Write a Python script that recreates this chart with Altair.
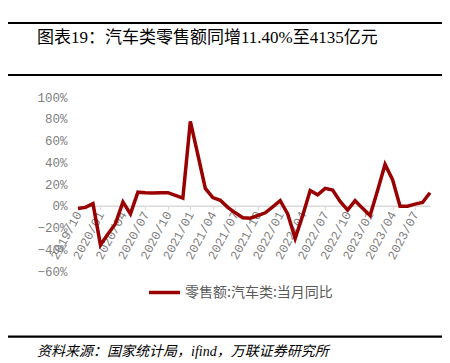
import altair as alt
import pandas as pd

# ---- data ----
months = [
    "2019/10", "2019/11", "2019/12",
    "2020/01", "2020/02", "2020/03", "2020/04", "2020/05", "2020/06",
    "2020/07", "2020/08", "2020/09", "2020/10", "2020/11", "2020/12",
    "2021/01", "2021/02", "2021/03", "2021/04", "2021/05", "2021/06",
    "2021/07", "2021/08", "2021/09", "2021/10", "2021/11", "2021/12",
    "2022/01", "2022/02", "2022/03", "2022/04", "2022/05", "2022/06",
    "2022/07", "2022/08", "2022/09", "2022/10", "2022/11", "2022/12",
    "2023/01", "2023/02", "2023/03", "2023/04", "2023/05", "2023/06",
    "2023/07", "2023/08", "2023/09",
]
values = [
    -2.5, -1.5, 2.0,
    -36.0, -26.0, -16.5, 3.5, -7.5, 12.5,
    12.0, 11.8, 12.0, 12.0, 9.5, 7.0,
    77.6, 47.0, 16.0, 7.5, 5.0, -1.5,
    -6.5, -11.0, -11.5, -9.0, -6.5, -1.0,
    4.6, -7.5, -30.0, -9.0, 14.0, 10.0,
    16.0, 14.5, 4.0, -4.0, 4.6, -2.4,
    -9.0, 14.0, 38.0, 24.0, -0.5, -0.5,
    1.5, 3.0, 12.0,
]
series_name = "零售额:汽车类:当月同比"
tick_labels = months[::3]
y_ticks = [-60, -40, -20, 0, 20, 40, 60, 80, 100]

title_text = "图表19：汽车类零售额同增11.40%至4135亿元"
source_text = "资料来源：国家统计局，ifind，万联证券研究所"

# ---- layout ----
W, H = 352, 174
ZERO_FROM_TOP = H * 100 / 160
RED = "#990000"
GREY = "#7F7F7F"
NUM_FONT = "Liberation Mono"
CJK_FONT = "Noto Sans CJK SC"
MIX_FONT = "Liberation Serif, Noto Sans CJK SC"

df = pd.DataFrame({"month": months, "value": values, "series": series_name})
one = pd.DataFrame({"k": [0]})

line = alt.Chart(df).mark_line(strokeWidth=3.5, strokeJoin="miter").encode(
    x=alt.X(
        "month:O",
        sort=months,
        scale=alt.Scale(type="point", padding=0),
        axis=alt.Axis(
            title=None,
            values=tick_labels,
            offset=-(H - ZERO_FROM_TOP),
            domainColor="#D9D9D9",
            domainWidth=1.5,
            tickColor="#D9D9D9",
            tickSize=4,
            tickWidth=1,
            labelAngle=-62,
            labelAlign="right",
            labelBaseline="middle",
            labelPadding=2,
            labelFont=NUM_FONT,
            labelFontSize=12.5,
            labelColor=GREY,
            labelOverlap=False,
            grid=False,
        ),
    ),
    y=alt.Y(
        "value:Q",
        scale=alt.Scale(domain=[-60, 100], nice=False, zero=False),
        axis=alt.Axis(
            title=None,
            values=y_ticks,
            labelExpr="datum.value < 0 ? '\u2212' + abs(datum.value) + '%' : datum.value + '%'",
            domain=False,
            ticks=False,
            grid=False,
            labelPadding=11,
            labelFont=NUM_FONT,
            labelFontSize=12.5,
            labelColor=GREY,
        ),
    ),
    color=alt.Color(
        "series:N",
        scale=alt.Scale(range=[RED]),
        legend=alt.Legend(
            title=None,
            orient="none",
            legendX=69,
            legendY=178,
            padding=0,
            symbolType="stroke",
            symbolSize=961,
            symbolStrokeWidth=3.5,
            labelFont=CJK_FONT,
            labelFontSize=14,
            labelColor="#595959",
            labelOffset=3,
        ),
    ),
)


def hrule(y, x1, x2, w, color="#000000"):
    return alt.Chart(one).mark_rule(strokeWidth=w, color=color).encode(
        x=alt.value(x1), x2=alt.value(x2), y=alt.value(y)
    )


top_line = hrule(-74, -70, 365, 2.2)
mid_line = hrule(-22, -70, 365, 2.2)
bottom_line = hrule(239.7, -70, 365, 2.2)

title = alt.Chart(one).mark_text(
    text=title_text, align="left", baseline="middle",
    font=MIX_FONT, fontSize=17, color="#000000",
).encode(x=alt.value(-41), y=alt.value(-59.5))

source = alt.Chart(one).mark_text(
    text=source_text, align="left", baseline="middle",
    font=MIX_FONT, fontSize=14, fontStyle="italic", color="#000000",
).encode(x=alt.value(-41), y=alt.value(255))

chart = alt.layer(top_line, mid_line, bottom_line, title, source, line).properties(
    width=W,
    height=H,
    padding={"left": 70, "top": 89, "right": 12, "bottom": 92},
    autosize=alt.AutoSizeParams(type="none"),
).configure_view(stroke=None)

chart.save("out.html", embed_options={"renderer": "svg", "actions": False})
